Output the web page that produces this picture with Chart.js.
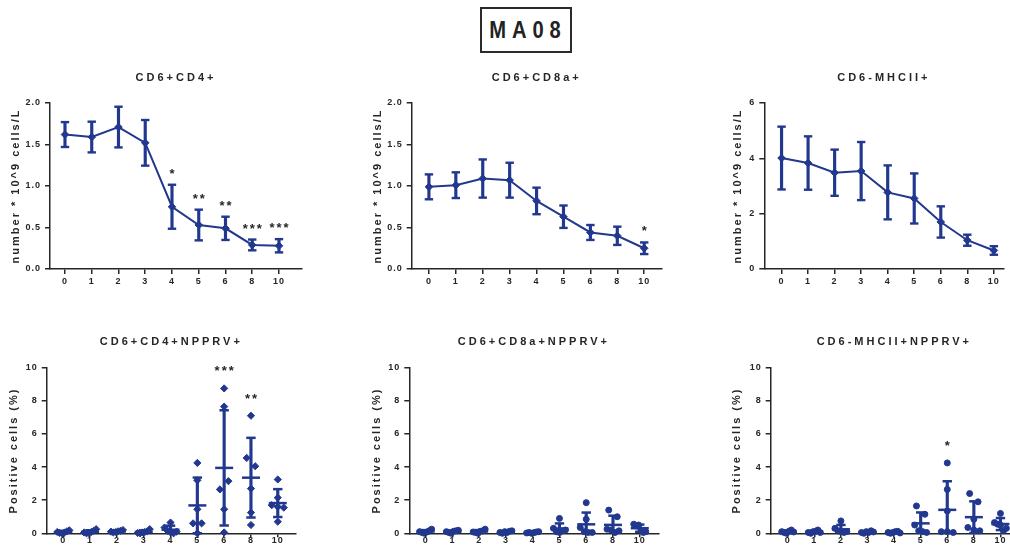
<!DOCTYPE html>
<html>
<head>
<meta charset="utf-8">
<script src="https://cdn.jsdelivr.net/npm/chart.js@4.4.1/dist/chart.umd.min.js"></script>
<style>
html,body{margin:0;padding:0;background:#fff;overflow:hidden;width:1010px;height:553px;position:relative;}
#main{position:absolute;left:480px;top:7px;width:88px;height:42px;border:2px solid #2b2b2b;display:flex;align-items:center;justify-content:center;}
#main span{display:inline-block;font-family:'Liberation Sans',Arial,sans-serif;font-weight:bold;font-size:24px;letter-spacing:7px;color:#222;transform:scaleX(0.84);margin-right:-4px;}
canvas{position:absolute;}
</style>
</head>
<body>
<div id="main"><span>MA08</span></div>
<script>
// ---------- data ----------
const days = ['0','1','2','3','4','5','6','8','10'];

const cd4Mean = [1.62, 1.59, 1.71, 1.52, 0.75, 0.53, 0.49, 0.29, 0.28];
const cd4Sd   = [0.15, 0.185, 0.245, 0.275, 0.265, 0.185, 0.14, 0.065, 0.08];
const cd4Sig  = ['', '', '', '', '*', '**', '**', '***', '***'];

const cd8Mean = [0.99, 1.01, 1.09, 1.07, 0.82, 0.63, 0.44, 0.40, 0.25];
const cd8Sd   = [0.15, 0.155, 0.23, 0.21, 0.16, 0.135, 0.09, 0.11, 0.07];
const cd8Sig  = ['', '', '', '', '', '', '', '', '*'];

const mhcMean = [4.01, 3.83, 3.48, 3.54, 2.77, 2.55, 1.70, 1.04, 0.67];
const mhcSd   = [1.135, 0.965, 0.835, 1.05, 0.975, 0.905, 0.565, 0.2, 0.155];
const mhcSig  = ['', '', '', '', '', '', '', '', ''];

const cd4Npprv = [
  [0.08, 0.02, 0.0, 0.05, 0.12, 0.18],
  [0.05, 0.0, 0.02, 0.08, 0.15, 0.25],
  [0.1, 0.05, 0.08, 0.12, 0.15, 0.2],
  [0.02, 0.0, 0.05, 0.08, 0.12, 0.25],
  [0.65, 0.35, 0.15, 0.05, 0.0, 0.1],
  [4.25, 3.2, 1.45, 0.6, 0.6, 0.0],
  [8.75, 7.65, 2.65, 3.15, 1.45, 0.05],
  [7.1, 4.55, 4.05, 2.7, 1.25, 0.5],
  [3.25, 2.15, 1.7, 1.6, 1.55, 0.7]
];
const cd4NpprvSig = ['', '', '', '', '', '', '***', '**', ''];

const cd8Npprv = [
  [0.1, 0.05, 0.0, 0.08, 0.15, 0.25],
  [0.1, 0.05, 0.0, 0.12, 0.15, 0.18],
  [0.08, 0.05, 0.0, 0.12, 0.15, 0.25],
  [0.05, 0.0, 0.1, 0.05, 0.12, 0.15],
  [0.02, 0.05, 0.0, 0.04, 0.08, 0.1],
  [0.9, 0.3, 0.1, 0.05, 0.15, 0.2],
  [1.85, 0.85, 0.35, 0.1, 0.05, 0.05],
  [1.4, 1.0, 0.25, 0.2, 0.05, 0.15],
  [0.55, 0.45, 0.5, 0.2, 0.05, 0.1]
];
const cd8NpprvSig = ['', '', '', '', '', '', '', '', ''];

const mhcNpprv = [
  [0.1, 0.05, 0.0, 0.12, 0.2, 0.08],
  [0.05, 0.0, 0.1, 0.12, 0.2, 0.05],
  [0.75, 0.3, 0.15, 0.1, 0.05, 0.1],
  [0.05, 0.0, 0.1, 0.05, 0.15, 0.08],
  [0.05, 0.0, 0.05, 0.1, 0.12, 0.02],
  [1.65, 1.15, 0.5, 0.15, 0.1, 0.05],
  [4.25, 2.65, 1.35, 0.1, 0.1, 0.05],
  [2.4, 1.9, 0.85, 0.35, 0.2, 0.15],
  [1.2, 0.65, 0.55, 0.5, 0.15, 0.3]
];
const mhcNpprvSig = ['', '', '', '', '', '', '*', '', ''];

// ---------- styling ----------
const BLUE = '#22388f';
const INK = '#262626';
const FONT = "'Liberation Sans', Arial, Helvetica, sans-serif";

function meanOf(a){ return a.reduce((s,v)=>s+v,0)/a.length; }
function sdOf(a){ const m = meanOf(a); return Math.sqrt(a.reduce((s,v)=>s+(v-m)*(v-m),0)/(a.length-1)); }

// side-by-side placement of overlapping dots (like a scatter dot plot)
function spread(values, pxPerY, pxPerX){
  const idx = values.map((v,i)=>i).sort((a,b)=>values[a]-values[b]);
  const off = new Array(values.length).fill(0);
  let row = [];
  const flush = () => {
    if (!row.length) return;
    const n = row.length;
    const step = n > 1 ? Math.min(8.5, 12/(n-1)) : 0;
    row.slice().sort((a,b)=>a-b).forEach((k,j)=>{ off[k] = (j-(n-1)/2)*step/pxPerX; });
    row = [];
  };
  idx.forEach(i => {
    if (row.length && (values[i]-values[row[0]])*pxPerY > 9) flush();
    row.push(i);
  });
  flush();
  return off;
}

const spacingPlugin = {
  id: 'spacing',
  beforeDraw(chart){
    if (chart.$spaced) return;
    chart.$spaced = true;
    const ctx = chart.ctx;
    const wrap = (obj, name, sp) => {
      const orig = obj[name];
      obj[name] = function(...a){ ctx.save(); ctx.letterSpacing = sp; const r = orig.apply(this, a); ctx.restore(); return r; };
    };
    if (chart.titleBlock) wrap(chart.titleBlock, 'draw', '3px');
    Object.values(chart.scales).forEach(s => { wrap(s, 'drawTitle', '2px'); wrap(s, 'drawLabels', '1px'); });
  }
};

const starPlugin = {
  id: 'stars',
  afterDatasetsDraw(chart, args, opts){
    if (!opts || !opts.labels) return;
    const {ctx, scales:{x, y}} = chart;
    ctx.save();
    ctx.font = 'bold 13px ' + FONT;
    ctx.fillStyle = INK;
    ctx.textAlign = 'center';
    ctx.textBaseline = 'alphabetic';
    ctx.letterSpacing = '2px';
    opts.labels.forEach((s,i) => {
      if (!s) return;
      ctx.fillText(s, x.getPixelForValue(i) + 1, y.getPixelForValue(opts.tops[i]) - opts.lift);
    });
    ctx.restore();
  }
};

function topSets(mean, sd){
  const caps = [];
  mean.forEach((m,i)=>{ caps.push({x:i, y:m+sd[i]}); caps.push({x:i, y:m-sd[i]}); });
  return [
    {type:'line', data: mean.map((m,i)=>({x:i, y:m})), borderColor:BLUE, backgroundColor:BLUE, borderWidth:2,
     pointStyle:'rectRot', pointRadius:3.8, pointBackgroundColor:BLUE, pointBorderColor:BLUE, pointBorderWidth:1, tension:0, order:0, clip:false},
    {type:'bar', data: mean.map((m,i)=>({x:i, y:[m-sd[i], m+sd[i]]})), backgroundColor:BLUE, borderWidth:0, barThickness:2.5, grouped:false, order:2, clip:0},
    {type:'scatter', data: caps, pointStyle:'line', pointRadius:4.2, pointBorderColor:BLUE, pointBorderWidth:2.4, order:1, clip:false}
  ];
}

function dotSets(groups, style, radius){
  const pts = [];
  groups.forEach((g,i)=>{ const off = spread(g, 16.56, 26.8); g.forEach((v,k)=>pts.push({x:i+off[k], y:v})); });
  const means = groups.map(meanOf), sds = groups.map(sdOf);
  const caps = [];
  means.forEach((m,i)=>{ caps.push({x:i, y:m+sds[i]}); if (m-sds[i] >= 0) caps.push({x:i, y:m-sds[i]}); });
  return [
    {type:'scatter', data: pts, pointStyle:style, pointRadius:radius, pointBackgroundColor:BLUE, pointBorderColor:BLUE, pointBorderWidth:1, order:1, clip:false},
    {type:'bar', data: means.map((m,i)=>({x:i, y:[m-sds[i], m+sds[i]]})), backgroundColor:BLUE, borderWidth:0, barThickness:2.5, grouped:false, order:0, clip:0},
    {type:'scatter', data: means.map((m,i)=>({x:i, y:m})), pointStyle:'line', pointRadius:9, pointBorderColor:BLUE, pointBorderWidth:2.5, order:0, clip:false},
    {type:'scatter', data: caps, pointStyle:'line', pointRadius:4.7, pointBorderColor:BLUE, pointBorderWidth:2.5, order:0, clip:false}
  ];
}

function panel(p){
  const canvas = document.createElement('canvas');
  canvas.width = p.w; canvas.height = p.h;
  canvas.style.left = p.left + 'px'; canvas.style.top = p.top + 'px';
  canvas.style.width = p.w + 'px'; canvas.style.height = p.h + 'px';
  document.body.appendChild(canvas);
  const tickFont = {family: FONT, size: 9, weight: 'bold'};
  return new Chart(canvas, {
    type: 'scatter',
    data: {datasets: p.datasets},
    options: {
      responsive: false, animation: false, devicePixelRatio: 1,
      events: [],
      layout: {padding: {left: 0, top: 0, right: p.padRight, bottom: 0}},
      plugins: {
        legend: {display: false},
        tooltip: {enabled: false},
        title: {display: true, text: p.title, fullSize: false, color: INK,
                font: {family: FONT, size: 11, weight: 'bold'}, padding: {top: p.tTop, bottom: p.tBottom}},
        stars: {labels: p.sig, tops: p.sigTop, lift: p.lift}
      },
      scales: {
        x: {
          type: 'linear', min: p.xMin, max: p.xMax, offset: false,
          afterFit: s => { s.height = p.xH; },
          afterBuildTicks: s => { s.ticks = days.map((d,i)=>({value: i})); },
          ticks: {callback: (v, i) => days[i], color: INK, font: tickFont, padding: p.xPad, maxRotation: 0, autoSkip: false, includeBounds: false},
          grid: {offset: false, drawOnChartArea: false, drawTicks: true, tickLength: p.xTick, color: INK, lineWidth: 1.5},
          border: {display: true, color: INK, width: 1.5}
        },
        y: {
          type: 'linear', min: 0, max: p.yMax, offset: false,
          afterFit: s => { s.width = p.axisW; },
          ticks: {stepSize: p.yStep, callback: v => v.toFixed(p.yDec), color: INK, font: tickFont, padding: 4},
          grid: {offset: false, drawOnChartArea: false, drawTicks: true, tickLength: 5, color: INK, lineWidth: 1.5},
          border: {display: true, color: INK, width: 1.5},
          title: {display: true, text: p.yTitle, color: INK, font: {family: FONT, size: 11, weight: 'bold'}, padding: {top: p.yTitleOff, bottom: 0}}
        }
      }
    },
    plugins: [spacingPlugin, starPlugin]
  });
}

const yTop = 'number * 10^9 cells/L';
const yBot = 'Positive cells (%)';

panel({left:0, top:60, w:310, h:240, axisW:50, padRight:8, xMin:-0.56, xMax:8.86, xH:31, xTick:5, xPad:2,
  yMax:2, yStep:0.5, yDec:1, title:'CD6+CD4+', tTop:11.4, tBottom:18.4, yTitle:yTop, yTitleOff:9.2,
  datasets: topSets(cd4Mean, cd4Sd), sig: cd4Sig, sigTop: cd4Mean.map((m,i)=>m+cd4Sd[i]), lift:7});

panel({left:360, top:60, w:310, h:240, axisW:51.7, padRight:8.3, xMin:-0.64, xMax:8.65, xH:31, xTick:5, xPad:2,
  yMax:2, yStep:0.5, yDec:1, title:'CD6+CD8a+', tTop:11.4, tBottom:18.4, yTitle:yTop, yTitleOff:10.9,
  datasets: topSets(cd8Mean, cd8Sd), sig: cd8Sig, sigTop: cd8Mean.map((m,i)=>m+cd8Sd[i]), lift:7});

panel({left:720, top:60, w:290, h:240, axisW:44.3, padRight:3.3, xMin:-0.65, xMax:8.36, xH:31, xTick:5, xPad:2,
  yMax:6, yStep:2, yDec:0, title:'CD6-MHCII+', tTop:11.4, tBottom:18.4, yTitle:yTop, yTitleOff:10.9,
  datasets: topSets(mhcMean, mhcSd), sig: mhcSig, sigTop: mhcMean.map((m,i)=>m+mhcSd[i]), lift:7});

panel({left:0, top:320, w:310, h:233, axisW:46.7, padRight:14, xMin:-0.62, xMax:8.68, xH:19.7, xTick:4, xPad:-2,
  yMax:10, yStep:2, yDec:0, title:'CD6+CD4+NPPRV+', tTop:15.4, tBottom:19.1, yTitle:yBot, yTitleOff:7.4,
  datasets: dotSets(cd4Npprv, 'rectRot', 3.6), sig: cd4NpprvSig, sigTop: cd4Npprv.map(g=>Math.max(...g)), lift:13});

panel({left:360, top:320, w:310, h:233, axisW:49.3, padRight:8.3, xMin:-0.61, xMax:8.7, xH:19.7, xTick:4, xPad:-2,
  yMax:10, yStep:2, yDec:0, title:'CD6+CD8a+NPPRV+', tTop:15.4, tBottom:19.1, yTitle:yBot, yTitleOff:10.1,
  datasets: dotSets(cd8Npprv, 'circle', 3), sig: cd8NpprvSig, sigTop: cd8Npprv.map(g=>Math.max(...g)), lift:13});

panel({left:720, top:320, w:310, h:233, axisW:50.7, padRight:12, xMin:-0.64, xMax:8.66, xH:19.7, xTick:4, xPad:-2,
  yMax:10, yStep:2, yDec:0, title:'CD6-MHCII+NPPRV+', tTop:15.4, tBottom:19.1, yTitle:yBot, yTitleOff:10.4,
  datasets: dotSets(mhcNpprv, 'circle', 3), sig: mhcNpprvSig, sigTop: mhcNpprv.map(g=>Math.max(...g)), lift:13});
</script>
</body>
</html>
